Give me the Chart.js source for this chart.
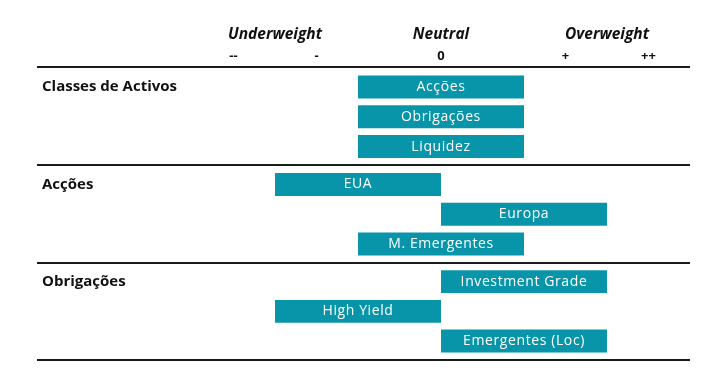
<!DOCTYPE html>
<html>
<head>
<meta charset="utf-8">
<script src="https://cdn.jsdelivr.net/npm/chart.js@4.4.0/dist/chart.umd.min.js"></script>
<style>
  html, body { margin: 0; padding: 0; background: #fff; }
  #wrap { position: relative; width: 722px; height: 378px; }
  .box { position: absolute; left: 0; width: 722px; }
</style>
</head>
<body>
<div id="wrap">
  <div class="box" style="top:0;height:166px"><canvas id="g0"></canvas></div>
  <div class="box" style="top:166px;height:98px"><canvas id="g1"></canvas></div>
  <div class="box" style="top:264px;height:97px"><canvas id="g2"></canvas></div>
</div>
<script>
// scale: -- / - / 0 / + / ++
const scaleTickValues = [-2.5, -1.5, 0, 1.5, 2.5];
const scaleTickLabels = ['--', '-', '0', '+', '++'];
const stanceValues = [-2, 0, 2];
const stanceLabels = ['Underweight', 'Neutral', 'Overweight'];

const groupNames = ['Classes de Activos', 'Acções', 'Obrigações'];

const assetLabels = ['Acções', 'Obrigações', 'Liquidez'];
const assetRanges = [[-1, 1], [-1, 1], [-1, 1]];

const equityLabels = ['EUA', 'Europa', 'M. Emergentes'];
const equityRanges = [[-2, 0], [0, 2], [-1, 1]];

const bondLabels = ['Investment Grade', 'High Yield', 'Emergentes (Loc)'];
const bondRanges = [[0, 2], [-2, 0], [0, 2]];

const TEAL = '#0894a9';
const INK = '#111111';
const FONT = "'Open Sans', 'DejaVu Sans', sans-serif";

// white label inside every bar
const barText = {
  id: 'barText',
  afterDatasetsDraw(chart) {
    const {ctx} = chart;
    const meta = chart.getDatasetMeta(0);
    ctx.save();
    ctx.fillStyle = '#ffffff';
    ctx.font = '14px ' + FONT;
    ctx.letterSpacing = '0.6px';
    ctx.textAlign = 'center';
    ctx.textBaseline = 'middle';
    meta.data.forEach((bar, i) => {
      const cx = (bar.x + bar.base) / 2;
      ctx.fillText(chart.data.labels[i], cx, bar.y);
    });
    ctx.restore();
  }
};

// separator rules across the full width
const rules = {
  id: 'rules',
  afterDraw(chart, args, opts) {
    const {ctx} = chart;
    ctx.save();
    ctx.strokeStyle = '#1a1a1a';
    ctx.lineWidth = 2;
    (opts.at || []).forEach(y => {
      ctx.beginPath();
      ctx.moveTo(37, y);
      ctx.lineTo(690, y);
      ctx.stroke();
    });
    ctx.restore();
  }
};

function makeGroup(id, labels, ranges, groupName, withHeader, ruleAt, pad) {
  const scales = {
    x: {
      min: -3, max: 3,
      position: 'top',
      display: withHeader,
      weight: 1,
      grid: {display: false, drawTicks: false},
      border: {display: false},
      afterBuildTicks: s => { s.ticks = scaleTickValues.map(v => ({value: v})); },
      ticks: {
        padding: 8.2,
        color: INK,
        font: {family: FONT, size: 13, weight: 'bold'},
        callback: (v, i) => scaleTickLabels[i]
      }
    },
    y: {
      grid: {display: false, drawTicks: false},
      border: {display: false},
      // fixed label column, no extra room reserved for the label heights
      afterFit: s => { s.width = 150; s.paddingTop = 0; s.paddingBottom = 0; },
      ticks: {
        crossAlign: 'far',
        padding: 0,
        color: INK,
        font: {family: FONT, size: 15, weight: 'bold'},
        callback: (v, i) => i === 0 ? groupName : ''
      }
    }
  };
  if (withHeader) {
    scales.x.afterFit = s => { s.height = 25.1; };
    scales.x2 = {
      type: 'linear',
      axis: 'x',
      min: -3, max: 3,
      position: 'top',
      weight: 2,
      grid: {display: false, drawTicks: false},
      border: {display: false},
      afterBuildTicks: s => { s.ticks = stanceValues.map(v => ({value: v})); },
      afterFit: s => { s.height = 47; },
      ticks: {
        padding: 3.2,
        color: INK,
        font: {family: FONT, size: 15.5, weight: 'bold', style: 'italic'},
        callback: (v, i) => stanceLabels[i]
      }
    };
  }
  return new Chart(document.getElementById(id), {
    type: 'bar',
    data: {
      labels,
      datasets: [{
        data: ranges,
        backgroundColor: TEAL,
        borderWidth: 0,
        borderSkipped: false,
        barPercentage: 0.77,
        categoryPercentage: 1
      }]
    },
    options: {
      indexAxis: 'y',
      responsive: true,
      maintainAspectRatio: false,
      animation: false,
      layout: {padding: {left: 42, right: 32, top: pad[0], bottom: pad[1]}},
      scales,
      plugins: {
        legend: {display: false},
        tooltip: {enabled: false},
        rules: {at: ruleAt}
      }
    },
    plugins: [barText, rules]
  });
}

makeGroup('g0', assetLabels, assetRanges, groupNames[0], true, [67, 165], [0, 4.6]);
makeGroup('g1', equityLabels, equityRanges, groupNames[1], false, [97], [3.6, 5.1]);
makeGroup('g2', bondLabels, bondRanges, groupNames[2], false, [96], [2.8, 5.1]);
</script>
</body>
</html>
